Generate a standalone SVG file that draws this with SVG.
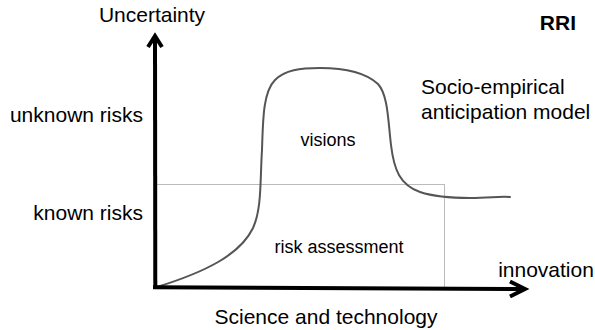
<svg xmlns="http://www.w3.org/2000/svg" width="595" height="330" viewBox="0 0 595 330">
  <style>
    .lbl { font-family: "Liberation Sans", Arial, sans-serif; font-size: 21px; fill: #000; }
    .sm { font-size: 18px; }
    .bold { font-weight: bold; }
    .axis { fill: none; stroke: #000; stroke-width: 4; stroke-linejoin: miter; }
    .curve { fill: none; stroke: #555; stroke-width: 2; stroke-linecap: round; }
    .zone { fill: none; stroke: #bbb; stroke-width: 1; }
  </style>
  <rect width="595" height="330" fill="#fff"/>

  <!-- risk assessment zone -->
  <g id="risk-zone">
    <rect class="zone" x="156.5" y="184.5" width="288" height="103"/>
    <text class="lbl sm" x="339" y="253" text-anchor="middle">risk assessment</text>
  </g>

  <!-- anticipation curve -->
  <g id="visions-curve">
    <path class="curve" d="M157,287 C205,272 240,255 253,228 C262,208 260,180 262,150 C263,120 263,92 275,80 C285,70 300,68 320,68 C345,68 365,72 378,84 C388,95 388,120 391,145 C394,170 400,185 420,192 C435,197 450,198 470,198 C490,198 500,196 510,197"/>
    <text class="lbl sm" x="328" y="146" text-anchor="middle">visions</text>
  </g>

  <!-- axes -->
  <g id="connectors">
    <line class="axis" x1="155.3" y1="289" x2="155" y2="37"/>
    <polyline class="axis" points="148,47 155,36 162,47"/>
    <line class="axis" x1="153" y1="287.3" x2="525" y2="289"/>
    <polyline class="axis" points="510,281.5 525,289 510,296.5"/>
  </g>

  <g id="y-axis-label">
    <text class="lbl" x="152" y="22" text-anchor="middle">Uncertainty</text>
  </g>
  <g id="x-axis-label">
    <text class="lbl" x="326" y="324" text-anchor="middle">Science and technology</text>
  </g>
  <g id="innovation-label">
    <text class="lbl" x="546" y="277" text-anchor="middle">innovation</text>
  </g>
  <g id="unknown-risks">
    <text class="lbl" x="143" y="122" text-anchor="end">unknown risks</text>
  </g>
  <g id="known-risks">
    <text class="lbl" x="143" y="220" text-anchor="end">known risks</text>
  </g>
  <g id="rri">
    <text class="lbl bold" x="576" y="30" text-anchor="end">RRI</text>
  </g>
  <g id="model-label">
    <text class="lbl" x="421" y="94">Socio-empirical</text>
    <text class="lbl" x="421" y="119">anticipation model</text>
  </g>
</svg>
